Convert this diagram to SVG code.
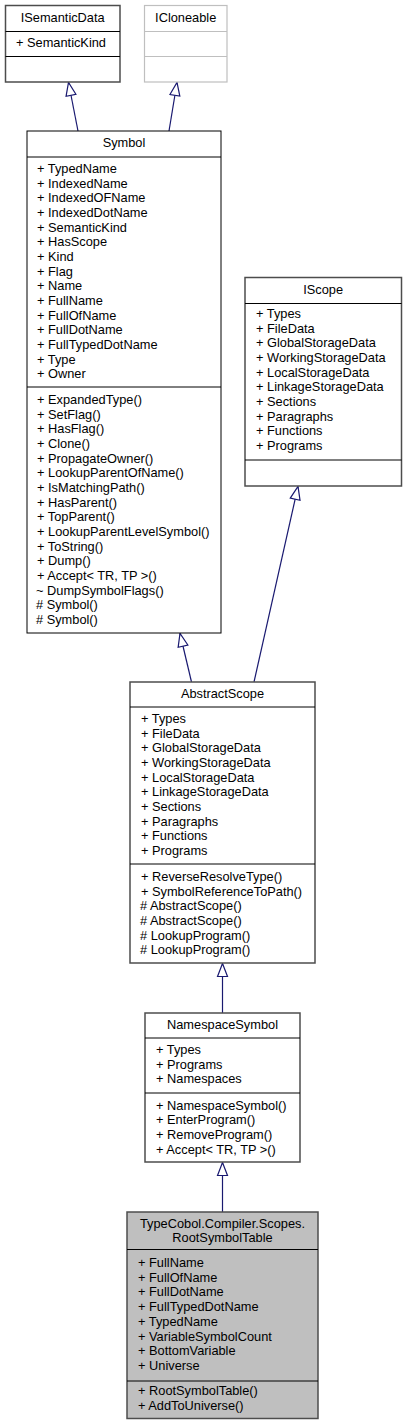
<svg xmlns="http://www.w3.org/2000/svg" width="405" height="1425" viewBox="0 0 405 1425">
<style>
text{font-family:"Liberation Sans",Arial,sans-serif;font-size:12.8px;fill:#000}
.t{text-anchor:middle}
.box{fill:#fff;stroke:#4d4d4d;stroke-width:1.5}
.boxb{fill:#fff;stroke:#000;stroke-width:1}
.boxg{fill:#fff;stroke:#bfbfbf;stroke-width:1.2}
.root{fill:#bfbfbf;stroke:#4d4d4d;stroke-width:1.5}
.div{stroke:#000;stroke-width:1}
.divg{stroke:#bfbfbf;stroke-width:1.2}
.edge{stroke:#191970;stroke-width:1.2;fill:none;marker-end:url(#inh)}
</style>
<defs>
<marker id="inh" markerUnits="userSpaceOnUse" viewBox="-1 -7 15 14" refX="13" refY="0" markerWidth="15" markerHeight="14" orient="auto">
<path d="M0,-5 L13,0 L0,5 Z" fill="#fff" stroke="#191970" stroke-width="1.2"/>
</marker>
</defs>
<rect width="405" height="1425" fill="#fff"/>
<g id="connectors">
<line class="edge" x1="78" y1="131" x2="68.5" y2="82.5"/>
<line class="edge" x1="169" y1="131" x2="177" y2="82.5"/>
<line class="edge" x1="191.5" y1="682" x2="180" y2="633.5"/>
<line class="edge" x1="254" y1="682" x2="298" y2="486.5"/>
<line class="edge" x1="222.5" y1="1013" x2="222.5" y2="963.5"/>
<line class="edge" x1="222.5" y1="1212" x2="222.5" y2="1162.5"/>
</g>
<g id="ISemanticData">
<rect class="box" x="5.5" y="5.5" width="114.5" height="76.5"/>
<line class="div" x1="5.5" y1="31.5" x2="120" y2="31.5"/>
<line class="div" x1="5.5" y1="56.5" x2="120" y2="56.5"/>
<text class="t" x="62.7" y="22">ISemanticData</text>
<text x="16" y="47">+ SemanticKind</text>
</g>
<g id="ICloneable">
<rect class="boxg" x="144.5" y="5.5" width="82.5" height="76.5"/>
<line class="divg" x1="144.5" y1="31.5" x2="227" y2="31.5"/>
<line class="divg" x1="144.5" y1="56.5" x2="227" y2="56.5"/>
<text class="t" x="185.7" y="22">ICloneable</text>
</g>
<g id="Symbol">
<rect class="boxb" x="27" y="131" width="194" height="502"/>
<line class="div" x1="27" y1="157" x2="221" y2="157"/>
<line class="div" x1="27" y1="387" x2="221" y2="387"/>
<text class="t" x="124" y="147">Symbol</text>
<text x="37">
<tspan x="37" y="172.8">+ TypedName</tspan>
<tspan x="37" y="187.5">+ IndexedName</tspan>
<tspan x="37" y="202.1">+ IndexedOFName</tspan>
<tspan x="37" y="216.8">+ IndexedDotName</tspan>
<tspan x="37" y="231.5">+ SemanticKind</tspan>
<tspan x="37" y="246.2">+ HasScope</tspan>
<tspan x="37" y="260.8">+ Kind</tspan>
<tspan x="37" y="275.5">+ Flag</tspan>
<tspan x="37" y="290.2">+ Name</tspan>
<tspan x="37" y="304.8">+ FullName</tspan>
<tspan x="37" y="319.5">+ FullOfName</tspan>
<tspan x="37" y="334.2">+ FullDotName</tspan>
<tspan x="37" y="348.8">+ FullTypedDotName</tspan>
<tspan x="37" y="363.5">+ Type</tspan>
<tspan x="37" y="378.2">+ Owner</tspan>
</text>
<text x="37">
<tspan x="37" y="403.8">+ ExpandedType()</tspan>
<tspan x="37" y="418.5">+ SetFlag()</tspan>
<tspan x="37" y="433.1">+ HasFlag()</tspan>
<tspan x="37" y="447.8">+ Clone()</tspan>
<tspan x="37" y="462.5">+ PropagateOwner()</tspan>
<tspan x="37" y="477.2">+ LookupParentOfName()</tspan>
<tspan x="37" y="491.8">+ IsMatchingPath()</tspan>
<tspan x="37" y="506.5">+ HasParent()</tspan>
<tspan x="37" y="521.2">+ TopParent()</tspan>
<tspan x="37" y="535.8">+ LookupParentLevelSymbol()</tspan>
<tspan x="37" y="550.5">+ ToString()</tspan>
<tspan x="37" y="565.2">+ Dump()</tspan>
<tspan x="37" y="579.8">+ Accept&lt; TR, TP &gt;()</tspan>
<tspan x="36" y="594.5">~ DumpSymbolFlags()</tspan>
<tspan x="36" y="609.2"># Symbol()</tspan>
<tspan x="36" y="623.8"># Symbol()</tspan>
</text>
</g>
<g id="IScope">
<rect class="box" x="245" y="277.5" width="156.5" height="208.5"/>
<line class="div" x1="245" y1="303.5" x2="401.5" y2="303.5"/>
<line class="div" x1="245" y1="460" x2="401.5" y2="460"/>
<text class="t" x="323.2" y="294">IScope</text>
<text x="256">
<tspan x="256" y="318">+ Types</tspan>
<tspan x="256" y="332.7">+ FileData</tspan>
<tspan x="256" y="347.3">+ GlobalStorageData</tspan>
<tspan x="256" y="362">+ WorkingStorageData</tspan>
<tspan x="256" y="376.7">+ LocalStorageData</tspan>
<tspan x="256" y="391.4">+ LinkageStorageData</tspan>
<tspan x="256" y="406">+ Sections</tspan>
<tspan x="256" y="420.7">+ Paragraphs</tspan>
<tspan x="256" y="435.4">+ Functions</tspan>
<tspan x="256" y="450">+ Programs</tspan>
</text>
</g>
<g id="AbstractScope">
<rect class="box" x="130" y="682" width="185" height="281"/>
<line class="div" x1="130" y1="707" x2="315" y2="707"/>
<line class="div" x1="130" y1="864" x2="315" y2="864"/>
<text class="t" x="222.5" y="698">AbstractScope</text>
<text x="141">
<tspan x="141" y="723">+ Types</tspan>
<tspan x="141" y="737.7">+ FileData</tspan>
<tspan x="141" y="752.3">+ GlobalStorageData</tspan>
<tspan x="141" y="767">+ WorkingStorageData</tspan>
<tspan x="141" y="781.7">+ LocalStorageData</tspan>
<tspan x="141" y="796.4">+ LinkageStorageData</tspan>
<tspan x="141" y="811">+ Sections</tspan>
<tspan x="141" y="825.7">+ Paragraphs</tspan>
<tspan x="141" y="840.4">+ Functions</tspan>
<tspan x="141" y="855">+ Programs</tspan>
</text>
<text x="141">
<tspan x="141" y="881">+ ReverseResolveType()</tspan>
<tspan x="141" y="895.7">+ SymbolReferenceToPath()</tspan>
<tspan x="140" y="910.3"># AbstractScope()</tspan>
<tspan x="140" y="925"># AbstractScope()</tspan>
<tspan x="140" y="939.7"># LookupProgram()</tspan>
<tspan x="140" y="954.4"># LookupProgram()</tspan>
</text>
</g>
<g id="NamespaceSymbol">
<rect class="box" x="145" y="1013" width="155" height="149"/>
<line class="div" x1="145" y1="1038" x2="300" y2="1038"/>
<line class="div" x1="145" y1="1093" x2="300" y2="1093"/>
<text class="t" x="222.5" y="1029">NamespaceSymbol</text>
<text x="156">
<tspan x="156" y="1054">+ Types</tspan>
<tspan x="156" y="1068.7">+ Programs</tspan>
<tspan x="156" y="1083.3">+ Namespaces</tspan>
</text>
<text x="156">
<tspan x="156" y="1109.5">+ NamespaceSymbol()</tspan>
<tspan x="156" y="1124.2">+ EnterProgram()</tspan>
<tspan x="156" y="1138.8">+ RemoveProgram()</tspan>
<tspan x="156" y="1153.5">+ Accept&lt; TR, TP &gt;()</tspan>
</text>
</g>
<g id="RootSymbolTable">
<rect class="root" x="127" y="1212" width="191" height="206.5"/>
<line class="div" x1="127" y1="1249.5" x2="318" y2="1249.5"/>
<line class="div" x1="127" y1="1381" x2="318" y2="1381"/>
<text class="t" x="222.5" y="1228">TypeCobol.Compiler.Scopes.</text>
<text class="t" x="222.5" y="1242">RootSymbolTable</text>
<text x="138">
<tspan x="138" y="1267">+ FullName</tspan>
<tspan x="138" y="1281.7">+ FullOfName</tspan>
<tspan x="138" y="1296.4">+ FullDotName</tspan>
<tspan x="138" y="1311.1">+ FullTypedDotName</tspan>
<tspan x="138" y="1325.8">+ TypedName</tspan>
<tspan x="138" y="1340.5">+ VariableSymbolCount</tspan>
<tspan x="138" y="1355.2">+ BottomVariable</tspan>
<tspan x="138" y="1369.9">+ Universe</tspan>
</text>
<text x="138">
<tspan x="138" y="1395.2">+ RootSymbolTable()</tspan>
<tspan x="138" y="1409.8">+ AddToUniverse()</tspan>
</text>
</g>
</svg>
